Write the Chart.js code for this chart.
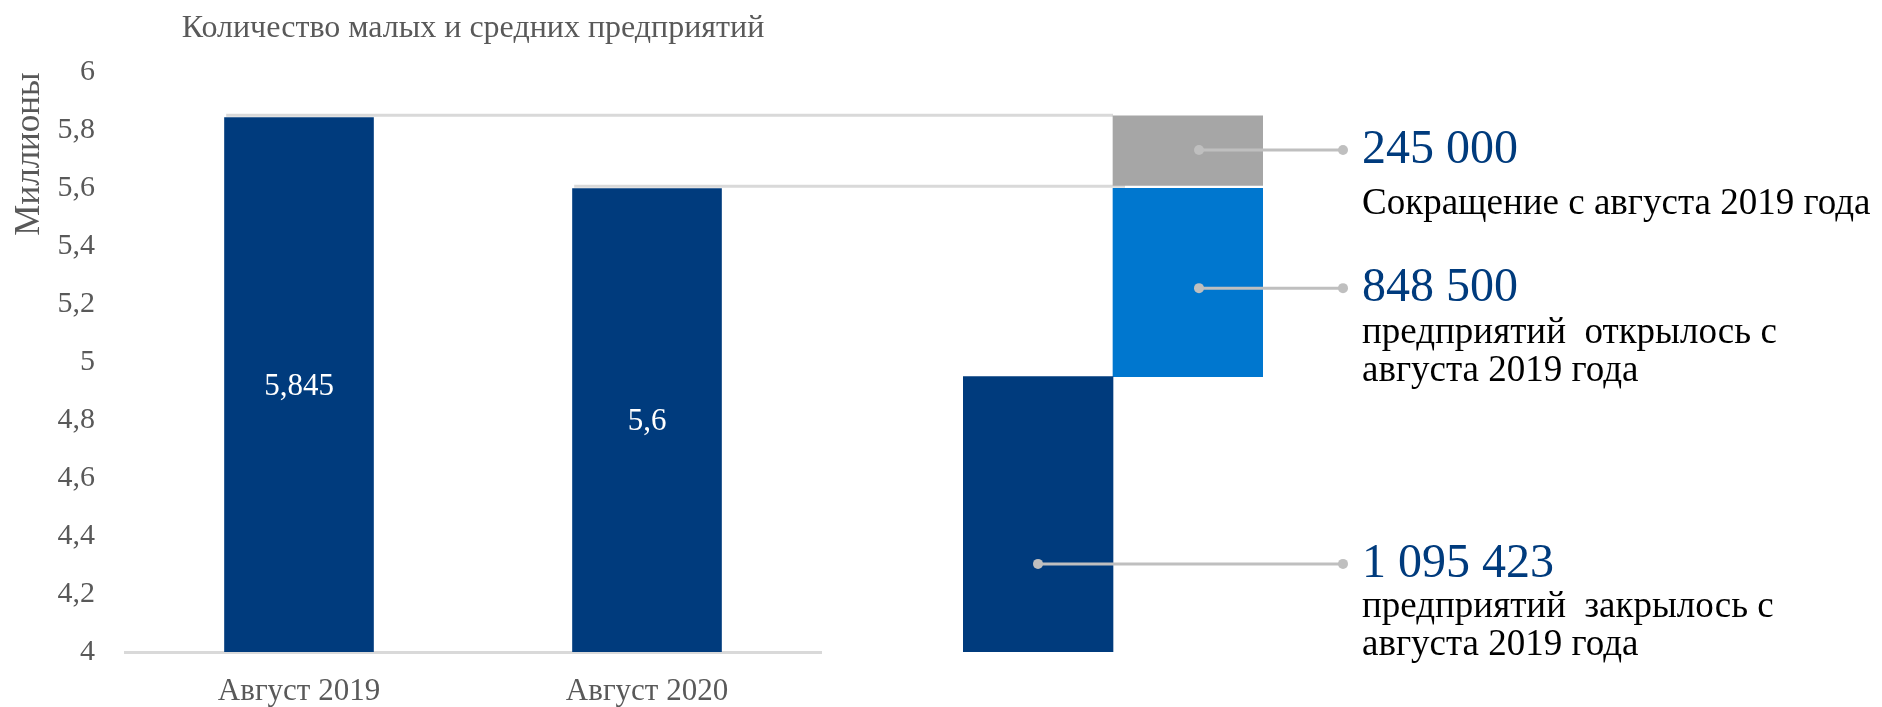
<!DOCTYPE html>
<html lang="ru">
<head>
<meta charset="utf-8">
<title>Количество малых и средних предприятий</title>
<script src="https://cdn.jsdelivr.net/npm/chart.js@4.4.1/dist/chart.umd.min.js"></script>
<style>
  html, body { margin: 0; padding: 0; background: #fff; }
  #wrap { position: relative; width: 1882px; height: 707px; }
  #wrap canvas { position: absolute; left: 0; top: 0; }
</style>
</head>
<body>
<div id="wrap">
  <canvas id="totalChart" width="1882" height="707"></canvas>
  <canvas id="flowChart" width="1882" height="707"></canvas>
</div>
<script>
// --- данные ---
var periods = ['Август 2019', 'Август 2020'];
var totals = [5.845, 5.6];               // млн предприятий
var yMin = 4, yMax = 6, yStep = 0.2;

// водопад справа: закрылось / открылось / сокращение
var flowNames = ['Закрылось', 'Открылось', 'Сокращение'];
var flowColumn = [0, 1, 1];
var flowFrom = [4, 4.95, 5.61];
var flowTo = [4.95, 5.6, 5.85];
var flowNumbers = ['1 095 423', '848 500', '245 000'];
var flowNotes = [
    ['предприятий  закрылось с', 'августа 2019 года'],
    ['предприятий  открылось с', 'августа 2019 года'],
    ['Сокращение с августа 2019 года']
];

// --- оформление ---
var SERIF = "'Liberation Serif', 'Times New Roman', serif";
var NAVY = '#003B7D', BLUE = '#0077CF', GREY = '#A6A6A6';
var TEXT_GREY = '#595959', CONNECTOR = '#D9D9D9', LEADER = '#BFBFBF';
var leaderAt = [0.68, 0.53, 0.49];   // где на столбце начинается выноска (доля от верха)
var noteGap = [53, 55, 64];

function comma(v) {
    return String(Math.round(v * 1000) / 1000).replace('.', ',');
}

var totalChart = new Chart(document.getElementById('totalChart'), {
    type: 'bar',
    data: {
        labels: periods,
        datasets: [{
            data: totals,
            backgroundColor: NAVY,
            base: yMin,
            barPercentage: 0.43,
            categoryPercentage: 1
        }]
    },
    options: {
        responsive: false,
        animation: false,
        layout: { padding: { left: 0, right: 1061, top: 0, bottom: 0 } },
        plugins: {
            legend: { display: false },
            tooltip: { enabled: false },
            title: {
                display: true,
                fullSize: false,
                text: 'Количество малых и средних предприятий',
                color: TEXT_GREY,
                font: { family: SERIF, size: 32, weight: 'normal' },
                padding: { top: 9, bottom: 25 }
            }
        },
        scales: {
            x: {
                grid: { display: false, drawTicks: false },
                border: { color: CONNECTOR, width: 3 },
                ticks: { color: TEXT_GREY, font: { family: SERIF, size: 31 }, padding: 21, maxRotation: 0 },
                afterFit: function (s) { s.height = 55; }
            },
            y: {
                min: yMin,
                max: yMax,
                grid: { display: false, drawTicks: false },
                border: { display: false },
                ticks: {
                    stepSize: yStep,
                    color: TEXT_GREY,
                    font: { family: SERIF, size: 30 },
                    padding: 30,
                    callback: function (v) { return comma(Math.round(v * 10) / 10); }
                },
                title: {
                    display: true,
                    text: 'Миллионы',
                    align: 'end',
                    color: TEXT_GREY,
                    font: { family: SERIF, size: 35 },
                    padding: { top: 9, bottom: 0 }
                },
                afterFit: function (s) { s.width = 125; }
            }
        }
    }
});

var area = totalChart.chartArea;

var flowDecor = {
    id: 'flowDecor',
    beforeDatasetsDraw: function (chart) {
        // серые линии от столбцов до водопада
        var ctx = chart.ctx;
        var grey = chart.getDatasetMeta(2).data[flowColumn[2]];
        var endX = grey.x - grey.width / 2;
        ctx.save();
        ctx.strokeStyle = CONNECTOR;
        ctx.lineWidth = 3;
        totalChart.getDatasetMeta(0).data.forEach(function (bar, i) {
            var y = chart.scales.y.getPixelForValue(totals[i]) - 2;
            ctx.beginPath();
            ctx.moveTo(bar.x - bar.width / 2 + 2, y);
            ctx.lineTo(endX + (i === 1 ? 12 : 0), y);
            ctx.stroke();
        });
        ctx.restore();
    },
    afterDatasetsDraw: function (chart) {
        var ctx = chart.ctx;
        ctx.save();

        // подписи значений внутри столбцов слева
        ctx.fillStyle = '#ffffff';
        ctx.font = '31px ' + SERIF;
        ctx.textAlign = 'center';
        ctx.textBaseline = 'middle';
        totalChart.getDatasetMeta(0).data.forEach(function (bar, i) {
            var bottom = Math.min(bar.base, totalChart.chartArea.bottom);
            ctx.fillText(comma(totals[i]), bar.x, (bar.y + bottom) / 2 + 2);
        });

        // выноски водопада
        var x1 = chart.chartArea.right + 80;
        flowNames.forEach(function (name, i) {
            var bar = chart.getDatasetMeta(i).data[flowColumn[i]];
            var cy = bar.y + (bar.base - bar.y) * leaderAt[i];
            var x0 = bar.x + (flowColumn[i] ? 11 : 0);
            ctx.strokeStyle = LEADER;
            ctx.fillStyle = LEADER;
            ctx.lineWidth = 3;
            ctx.beginPath();
            ctx.moveTo(x0, cy);
            ctx.lineTo(x1, cy);
            ctx.stroke();
            [x0, x1].forEach(function (x) {
                ctx.beginPath();
                ctx.arc(x, cy, 5, 0, Math.PI * 2);
                ctx.fill();
            });
            ctx.textAlign = 'left';
            ctx.textBaseline = 'middle';
            ctx.fillStyle = NAVY;
            ctx.font = '48px ' + SERIF;
            ctx.fillText(flowNumbers[i], x1 + 19, cy);
            ctx.textBaseline = 'alphabetic';
            ctx.fillStyle = '#000000';
            ctx.font = '37px ' + SERIF;
            flowNotes[i].forEach(function (line, k) {
                ctx.fillText(line, x1 + 19, cy + noteGap[i] + k * 38);
            });
        });
        ctx.restore();
    }
};

var flowSets = flowNames.map(function (name, i) {
    var data = [null, null];
    data[flowColumn[i]] = [flowFrom[i], flowTo[i]];
    return {
        label: name,
        data: data,
        backgroundColor: [NAVY, BLUE, GREY][i],
        barPercentage: 1,
        categoryPercentage: 1
    };
});

var flowChart = new Chart(document.getElementById('flowChart'), {
    type: 'bar',
    data: { labels: ['Закрылось', 'Открылось'], datasets: flowSets },
    options: {
        responsive: false,
        animation: false,
        layout: { padding: { left: 963, right: 1882 - 1263, top: area.top, bottom: 707 - area.bottom } },
        plugins: { legend: { display: false }, tooltip: { enabled: false } },
        scales: {
            x: { display: false, stacked: true },
            y: { display: false, min: yMin, max: yMax }
        }
    },
    plugins: [flowDecor]
});
</script>
</body>
</html>
